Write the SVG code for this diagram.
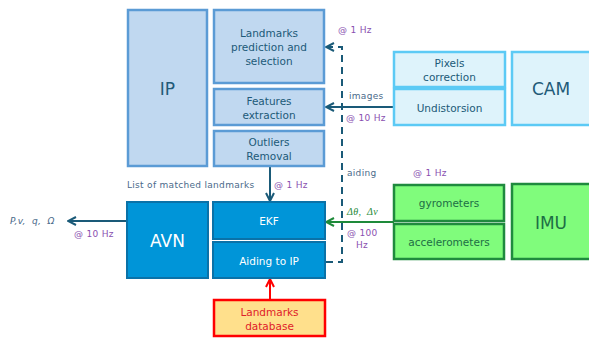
<svg xmlns="http://www.w3.org/2000/svg" width="589" height="338" viewBox="0 0 589 338">
<defs>
<style>
text{font-family:"DejaVu Sans","Liberation Sans",sans-serif;text-anchor:middle}
.ip rect{fill:#c0d8f0;stroke:#5b9bd5;stroke-width:2.5}
.ip text{fill:#215a78;font-size:10.5px}
.cam rect{fill:#def3fb;stroke:#5ccaf5;stroke-width:2.5}
.cam text{fill:#215a78;font-size:10.5px}
.avn rect{fill:#0095d8;stroke:#0a72a8;stroke-width:2}
.avn text{fill:#ffffff;font-size:10.5px}
.imu rect{fill:#80fc7c;stroke:#1f8a3e;stroke-width:2.5}
.imu text{fill:#1d6e45;font-size:10.5px}
.big{font-size:17px!important}
.lbl{font-size:9px;letter-spacing:0.3px;text-anchor:start;fill:#4a6a8a}
.hz{font-size:9px;letter-spacing:0.3px;text-anchor:start;fill:#8a4fb0}
.it{font-style:italic;white-space:pre}
.dv{font-family:"Liberation Serif",serif;font-size:10px;font-style:italic;fill:#2a8a3a;text-anchor:start;white-space:pre;letter-spacing:0.4px}
.ln{fill:none;stroke:#1a5a78;stroke-width:2}
</style>
<marker id="ab" viewBox="0 0 10 10" refX="9" refY="5" markerWidth="5" markerHeight="5" orient="auto"><path d="M1,1 L9,5 L1,9" fill="none" stroke="#1a5a78" stroke-width="2"/></marker>
<marker id="ag" viewBox="0 0 10 10" refX="9" refY="5" markerWidth="5" markerHeight="5" orient="auto"><path d="M1,1 L9,5 L1,9" fill="none" stroke="#1e8a3a" stroke-width="2"/></marker>
<marker id="ar" viewBox="0 0 10 10" refX="9" refY="5" markerWidth="5" markerHeight="5" orient="auto"><path d="M1,1 L9,5 L1,9" fill="none" stroke="#ff0000" stroke-width="2"/></marker>
</defs>
<g id="connectors">
<path class="ln" d="M394,107 L326,107" marker-end="url(#ab)"/>
<path class="ln" d="M270,166 L270,201" marker-end="url(#ab)"/>
<path class="ln" d="M127,221 L68,221" marker-end="url(#ab)"/>
<path d="M394,222 L326,222" fill="none" stroke="#1e8a3a" stroke-width="2" marker-end="url(#ag)"/>
<path d="M270,300 L270,279" fill="none" stroke="#ff0000" stroke-width="2" marker-end="url(#ar)"/>
<path class="ln" d="M326,262 L342,262 L342,47 L326,47" stroke-dasharray="7,5" marker-end="url(#ab)"/>
</g>
<g id="ip" class="ip"><rect x="128" y="10" width="79" height="156"/><text class="big" x="167.5" y="95">IP</text></g>
<g id="landmarks-prediction" class="ip"><rect x="214" y="10" width="110" height="73"/><text x="269" y="37">Landmarks</text><text x="269" y="51">prediction and</text><text x="269" y="65">selection</text></g>
<g id="features-extraction" class="ip"><rect x="214" y="89" width="110" height="36"/><text x="269" y="105">Features</text><text x="269" y="119">extraction</text></g>
<g id="outliers-removal" class="ip"><rect x="214" y="131" width="110" height="35"/><text x="269" y="146">Outliers</text><text x="269" y="160">Removal</text></g>
<g id="pixels-correction" class="cam"><rect x="394" y="52" width="111" height="35"/><text x="449.5" y="67">Pixels</text><text x="449.5" y="81">correction</text></g>
<g id="undistorsion" class="cam"><rect x="394" y="89" width="111" height="36"/><text x="449.5" y="112">Undistorsion</text></g>
<g id="cam" class="cam"><rect x="512" y="52" width="82" height="73"/><text class="big" x="551" y="95">CAM</text></g>
<g id="gyrometers" class="imu"><rect x="394" y="185" width="110" height="36"/><text x="449" y="207">gyrometers</text></g>
<g id="accelerometers" class="imu"><rect x="394" y="224" width="110" height="35"/><text x="449" y="246">accelerometers</text></g>
<g id="imu" class="imu"><rect x="512" y="184" width="82" height="75"/><text class="big" x="551" y="229">IMU</text></g>
<g id="avn" class="avn"><rect x="127" y="202" width="81" height="76"/><text class="big" x="167.5" y="247">AVN</text></g>
<g id="ekf" class="avn"><rect x="213" y="202" width="112" height="37"/><text x="269" y="225">EKF</text></g>
<g id="aiding-to-ip" class="avn"><rect x="213" y="242" width="112" height="36"/><text x="269" y="265">Aiding to IP</text></g>
<g id="landmarks-database"><rect x="214" y="300" width="111" height="36" fill="#ffe08c" stroke="#ff0000" stroke-width="2.5"/><text x="269.5" y="316" fill="#e0202a" font-size="10.5">Landmarks</text><text x="269.5" y="330" fill="#e0202a" font-size="10.5">database</text></g>
<g id="labels">
<text class="hz" x="338" y="33">@ 1 Hz</text>
<text class="lbl" x="349" y="99">images</text>
<text class="hz" x="346" y="121">@ 10 Hz</text>
<text class="lbl" x="347" y="176">aiding</text>
<text class="hz" x="413" y="176">@ 1 Hz</text>
<text class="lbl" x="127" y="188">List of matched landmarks</text>
<text class="hz" x="274" y="188">@ 1 Hz</text>
<text class="dv" x="347" y="215">Δθ,  Δv</text>
<text class="hz" x="347" y="236">@ 100</text>
<text class="hz" x="356" y="248">Hz</text>
<text class="lbl it" x="10" y="224">P,v,  q,  Ω</text>
<text class="hz" x="74" y="237">@ 10 Hz</text>
</g>
</svg>
